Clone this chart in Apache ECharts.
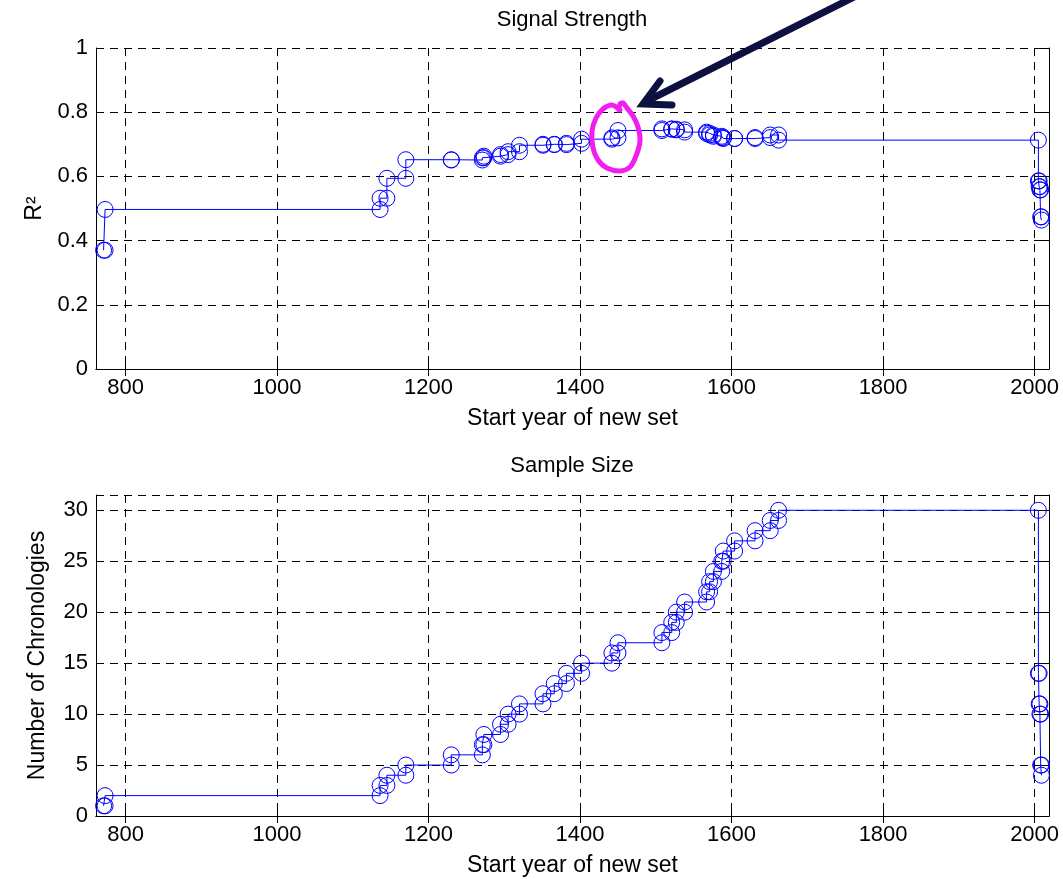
<!DOCTYPE html>
<html>
<head>
<meta charset="utf-8">
<script src="https://cdn.jsdelivr.net/npm/echarts@6/dist/echarts.min.js"></script>
<style>
html, body { margin: 0; padding: 0; background: #fff; }
#main { width: 1063px; height: 879px; }
</style>
</head>
<body>
<div id="main"></div>
<script>
// start year of each new set of chronologies
var startYears = [771, 773, 1136, 1145, 1170, 1230, 1271, 1273, 1295, 1305,
    1320, 1351, 1366, 1382, 1402, 1442, 1450, 1508, 1521, 1527,
    1538, 1567, 1571, 1576, 1587, 1589, 1604, 1631, 1651, 1662,
    2005, 2006, 2007, 2008, 2009];
// R^2 of the set starting at that year
var rSquared = [0.370, 0.497, 0.532, 0.594, 0.652, 0.651, 0.658, 0.663, 0.668, 0.677,
    0.697, 0.700, 0.699, 0.703, 0.716, 0.720, 0.743, 0.748, 0.747, 0.745,
    0.738, 0.734, 0.729, 0.725, 0.721, 0.718, 0.718, 0.721, 0.729, 0.713,
    0.586, 0.568, 0.558, 0.474, 0.464];
// number of chronologies in the set
var chronCount = [1, 2, 3, 4, 5, 6, 7, 8, 9, 10,
    11, 12, 13, 14, 15, 16, 17, 18, 19, 20,
    21, 22, 23, 24, 25, 26, 27, 28, 29, 30,
    14, 11, 10, 5, 4];
var yearTicks = [800, 1000, 1200, 1400, 1600, 1800, 2000];

var FONT = 'Liberation Sans, Arial, sans-serif';
var BLUE = '#0000ff';

// stairs: each step gets a marker at both corners
function stairs(xs, ys) {
    var pts = [[xs[0], ys[0]]];
    for (var i = 1; i < xs.length; i++) {
        pts.push([xs[i], ys[i - 1]]);
        pts.push([xs[i], ys[i]]);
    }
    return pts;
}

function plain(v) {
    return String(v);
}

function xAxes(g) {
    return [{
        type: 'value', gridIndex: g, position: 'bottom',
        min: 761, max: 2019, splitNumber: 6,
        axisLine: { show: true, lineStyle: { color: '#000', width: 1 } },
        axisTick: { show: true, inside: true, length: 7, customValues: yearTicks, lineStyle: { color: '#000' } },
        axisLabel: { customValues: yearTicks, formatter: plain, color: '#000', fontSize: 22, margin: 8, fontFamily: FONT },
        splitLine: { show: true, lineStyle: { color: '#000', width: 1, type: [8, 6] } },
        name: 'Start year of new set', nameLocation: 'middle', nameGap: 38,
        nameTextStyle: { color: '#000', fontSize: 23, fontFamily: FONT }
    }, {
        type: 'value', gridIndex: g, position: 'top',
        min: 761, max: 2019, splitNumber: 6,
        axisLine: { show: true, lineStyle: { color: '#000', width: 1 } },
        axisTick: { show: true, inside: true, length: 7, customValues: yearTicks, lineStyle: { color: '#000' } },
        axisLabel: { show: false },
        splitLine: { show: false }
    }];
}

function yAxes(g, max, step, showMax, name, gap) {
    return [{
        type: 'value', gridIndex: g, position: 'left',
        min: 0, max: max, interval: step,
        axisLine: { show: true, lineStyle: { color: '#000', width: 1 } },
        axisTick: { show: true, inside: true, length: 7, lineStyle: { color: '#000' } },
        axisLabel: { formatter: plain, color: '#000', fontSize: 22, margin: 8, fontFamily: FONT, showMinLabel: true, showMaxLabel: showMax },
        splitLine: { show: true, lineStyle: { color: '#000', width: 1, type: [8, 6] } },
        name: name, nameLocation: 'middle', nameGap: gap,
        nameTextStyle: { color: '#000', fontSize: 23, fontFamily: FONT }
    }, {
        type: 'value', gridIndex: g, position: 'right',
        min: 0, max: max, interval: step,
        axisLine: { show: true, lineStyle: { color: '#000', width: 1 } },
        axisTick: { show: true, inside: true, length: 7, lineStyle: { color: '#000' } },
        axisLabel: { show: false },
        splitLine: { show: false }
    }];
}

function stairSeries(xi, yi, data) {
    return {
        type: 'line', xAxisIndex: xi, yAxisIndex: yi, data: data,
        symbol: 'circle', symbolSize: 16, showSymbol: true, showAllSymbol: true,
        itemStyle: { color: 'rgba(0,0,0,0)', borderColor: BLUE, borderWidth: 1 },
        lineStyle: { color: BLUE, width: 1 },
        emphasis: { disabled: true }, silent: true, clip: false, z: 3
    };
}

var chart = echarts.init(document.getElementById('main'));
var option = {
    animation: false,
    backgroundColor: '#fff',
    grid: [
        { left: 96, top: 48, width: 953, height: 321 },
        { left: 96, top: 495, width: 953, height: 321 }
    ],
    xAxis: xAxes(0).concat(xAxes(1)),
    yAxis: yAxes(0, 1, 0.2, true, 'R\u00b2', 45).concat(yAxes(1, 31.5, 5, false, 'Number of Chronologies', 47)),
    series: [
        stairSeries(0, 0, stairs(startYears, rSquared)),
        stairSeries(2, 2, stairs(startYears, chronCount))
    ],
    graphic: [
        { type: 'text', x: 572, y: 20, style: { text: 'Signal Strength', fill: '#000', font: '22px ' + FONT, textAlign: 'center', textVerticalAlign: 'middle' } },
        { type: 'text', x: 572, y: 466, style: { text: 'Sample Size', fill: '#000', font: '22px ' + FONT, textAlign: 'center', textVerticalAlign: 'middle' } },
        // hand-drawn highlight around the peak
        { type: 'polyline', z: 100, shape: { smooth: 0.3, points: [[620, 110], [612, 105], [603, 109], [596, 118], [592, 131], [593, 148], [598, 160], [607, 168], [620, 171], [630, 167], [636, 156], [640, 141], [638, 127], [633, 116], [627, 108], [623, 103], [620, 104], [619, 110]] },
          style: { stroke: '#f01ef0', lineWidth: 5, fill: null, lineJoin: 'round', lineCap: 'round' } },
        // arrow
        { type: 'polyline', z: 100, shape: { points: [[860, -6], [647, 101]] },
          style: { stroke: '#0d1140', lineWidth: 7, fill: null, lineCap: 'round' } },
        { type: 'polyline', z: 100, shape: { points: [[660, 81], [643, 104], [672, 105]] },
          style: { stroke: '#0d1140', lineWidth: 7, fill: null, lineJoin: 'miter', lineCap: 'round' } }
    ]
};
chart.setOption(option);
</script>
</body>
</html>
